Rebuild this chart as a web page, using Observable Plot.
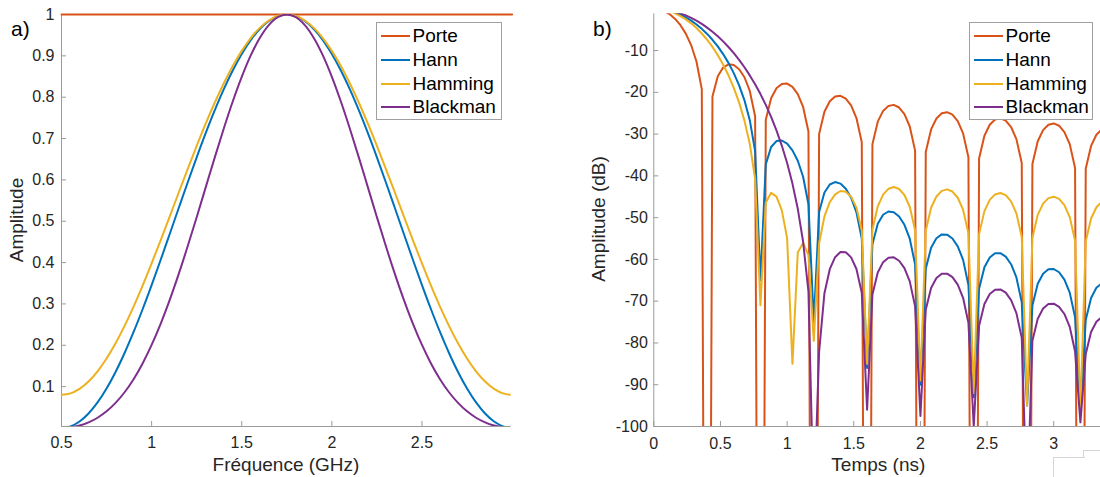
<!DOCTYPE html>
<html><head><meta charset="utf-8">
<script src="https://cdn.jsdelivr.net/npm/d3@7"></script>
<script src="https://cdn.jsdelivr.net/npm/@observablehq/plot@0.6"></script>
<style>
html,body{margin:0;padding:0;background:#fff;}
body{width:1100px;height:477px;overflow:hidden;position:relative;font-family:"Liberation Sans",Arial,Helvetica,sans-serif;}
.panel{position:absolute;top:0;height:477px;}
.lbl{position:absolute;white-space:nowrap;color:#262626;font-size:19px;line-height:24px;}
.plab{position:absolute;white-space:nowrap;color:#000;font-size:21px;line-height:24px;top:17px;}
.legend{position:absolute;border:1px solid #a0a0a0;background:#fff;box-sizing:border-box;}
.legend .ln{position:absolute;left:3.5px;width:29px;height:2px;}
.legend .tx{position:absolute;left:35.5px;font-size:19px;line-height:24px;color:#000;white-space:nowrap;}
.art{position:absolute;border-top:1px solid #d6d6d6;border-left:1px solid #d6d6d6;}
</style></head><body>
<div id="pa" class="panel" style="left:0;width:550px"></div>
<div id="pb" class="panel" style="left:550px;width:554px"></div>
<div class="plab" style="left:11px">a)</div>
<div class="plab" style="left:593px">b)</div>
<div class="lbl" style="left:17.3px;top:220px;transform:translate(-50%,-50%) rotate(-90deg)">Amplitude</div>
<div class="lbl" style="left:286px;top:465px;transform:translate(-50%,-50%)">Fréquence (GHz)</div>
<div class="lbl" style="left:599.3px;top:219px;transform:translate(-50%,-50%) rotate(-90deg)">Amplitude (dB)</div>
<div class="lbl" style="left:878.3px;top:465px;transform:translate(-50%,-50%)">Temps (ns)</div>
<div class="art" style="left:1052.5px;top:457px;width:31px;height:30px"></div>
<div class="art" style="left:1083px;top:450px;width:30px;height:7px"></div>
<script>
const FONT = '"Liberation Sans", Arial, Helvetica, sans-serif';
const names = ["Porte", "Hann", "Hamming", "Blackman"];
const colors = ["#D95319", "#0072BD", "#EDB120", "#7E2F8E"];
const AXIS = "#9a9a9a";

// ---- panel a : windows vs frequency ----
const freqGHz = [0.5,0.55,0.6,0.65,0.7,0.75,0.8,0.85,0.9,0.95,1,1.05,1.1,1.15,1.2,1.25,1.3,1.35,1.4,1.45,1.5,1.55,1.6,1.65,1.7,1.75,1.8,1.85,1.9,1.95,2,2.05,2.1,2.15,2.2,2.25,2.3,2.35,2.4,2.45,2.5,2.55,2.6,2.65,2.7,2.75,2.8,2.85,2.9,2.95,3];
const porteA = [1,1,1,1,1,1,1,1,1,1,1,1,1,1,1,1,1,1,1,1,1,1,1,1,1,1,1,1,1,1,1,1,1,1,1,1,1,1,1,1,1,1,1,1,1,1,1,1,1,1,1];
const hannA = [0,0.0039,0.0157,0.0351,0.0618,0.0955,0.1355,0.1813,0.2321,0.2871,0.3455,0.4063,0.4686,0.5314,0.5937,0.6545,0.7129,0.7679,0.8187,0.8645,0.9045,0.9382,0.9649,0.9843,0.9961,1,0.9961,0.9843,0.9649,0.9382,0.9045,0.8645,0.8187,0.7679,0.7129,0.6545,0.5937,0.5314,0.4686,0.4063,0.3455,0.2871,0.2321,0.1813,0.1355,0.0955,0.0618,0.0351,0.0157,0.0039,0];
const hammingA = [0.08,0.0836,0.0945,0.1123,0.1369,0.1679,0.2047,0.2468,0.2935,0.3441,0.3979,0.4538,0.5111,0.5689,0.6262,0.6821,0.7359,0.7865,0.8332,0.8753,0.9121,0.9431,0.9677,0.9855,0.9964,1,0.9964,0.9855,0.9677,0.9431,0.9121,0.8753,0.8332,0.7865,0.7359,0.6821,0.6262,0.5689,0.5111,0.4538,0.3979,0.3441,0.2935,0.2468,0.2047,0.1679,0.1369,0.1123,0.0945,0.0836,0.08];
const blackmanA = [0,0.0014,0.0058,0.0134,0.0247,0.0402,0.0605,0.0863,0.118,0.1561,0.2008,0.2519,0.3092,0.372,0.4393,0.5098,0.5819,0.6539,0.7237,0.7895,0.8492,0.901,0.9432,0.9744,0.9935,1,0.9935,0.9744,0.9432,0.901,0.8492,0.7895,0.7237,0.6539,0.5819,0.5098,0.4393,0.372,0.3092,0.2519,0.2008,0.1561,0.118,0.0863,0.0605,0.0402,0.0247,0.0134,0.0058,0.0014,0];
const xTicksA = [0.5, 1, 1.5, 2, 2.5];
const yTicksA = [0.1, 0.2, 0.3, 0.4, 0.5, 0.6, 0.7, 0.8, 0.9, 1];
const xDomA = [0.5, 2.995];
const yDomA = [0.0035, 1];

// ---- panel b : spectra in dB vs time ----
const timeNs = [0,0.04,0.08,0.12,0.16,0.2,0.24,0.28,0.32,0.36,0.4,0.44,0.48,0.52,0.56,0.6,0.64,0.68,0.72,0.76,0.8,0.84,0.88,0.92,0.96,1,1.04,1.08,1.12,1.16,1.2,1.24,1.28,1.32,1.36,1.4,1.44,1.48,1.52,1.56,1.6,1.64,1.68,1.72,1.76,1.8,1.84,1.88,1.92,1.96,2,2.04,2.08,2.12,2.16,2.2,2.24,2.28,2.32,2.36,2.4,2.44,2.48,2.52,2.56,2.6,2.64,2.68,2.72,2.76,2.8,2.84,2.88,2.92,2.96,3,3.04,3.08,3.12,3.16,3.2,3.24,3.28,3.32,3.36,3.4];
const porteDB = [0,-0.144,-0.58,-1.325,-2.42,-3.922,-5.942,-8.685,-12.621,-19.229,
-320,-20.972,-16.143,-14.062,-13.302,-13.465,-14.461,-16.392,-19.664,-25.719,
-320,-26.588,-21.407,-19.018,-17.983,-17.902,-18.678,-20.41,-23.502,-29.392,
-320,-29.971,-24.662,-22.153,-21.009,-20.824,-21.505,-23.147,-26.155,-31.965,
-320,-32.4,-27.024,-24.452,-23.248,-23.007,-23.634,-25.225,-28.184,-33.948,
-320,-34.295,-28.879,-26.269,-25.027,-24.75,-25.343,-26.9,-29.828,-35.561,
-320,-35.851,-30.407,-27.77,-26.503,-26.201,-26.77,-28.304,-31.209,-36.921,
-320,-37.169,-31.706,-29.049,-27.764,-27.444,-27.995,-29.513,-32.401,-38.096,
-320,-38.314,-32.835,-30.165,-28.865,-28.531];
const hannDB = [0,-0.057,-0.225,-0.506,-0.906,-1.423,-2.066,-2.836,-3.747,-4.804,
-6.021,-7.416,-9.012,-10.839,-12.947,-15.403,-18.323,-21.921,-26.669,-34.052,
-65,-37.243,-33.094,-31.667,-31.535,-32.305,-33.886,-36.383,-40.203,-46.788,
-75,-48.671,-43.976,-42.057,-41.482,-41.847,-43.06,-45.216,-48.723,-55.017,
-86,-56.379,-51.447,-49.308,-48.526,-48.695,-49.723,-51.706,-55.048,-61.186,
-90,-62.258,-57.192,-54.926,-54.02,-54.073,-54.989,-56.864,-60.103,-66.142,
-93,-67.028,-61.874,-59.522,-58.536,-58.51,-59.35,-61.152,-64.32,-70.291,
-95,-71.045,-65.83,-63.417,-62.373,-62.29,-63.076,-64.825,-67.941,-73.861,
-97,-74.52,-69.257,-66.801,-65.712,-65.586];
const hammingDB = [0,-0.07,-0.277,-0.623,-1.114,-1.751,-2.542,-3.491,-4.613,-5.914,
-7.414,-9.132,-11.096,-13.342,-15.927,-18.925,-22.465,-26.775,-32.349,-40.7,
-71,-46.445,-44.06,-44.966,-48.209,-54.912,-85,-58.321,-56.041,-58.972,
-79.5,-56.13,-49.705,-46.303,-44.425,-43.626,-43.784,-44.975,-47.591,-53.056,
-85,-52.912,-47.292,-44.5,-43.097,-42.674,-43.136,-44.575,-47.396,-53.031,
-89,-53.151,-47.633,-44.928,-43.598,-43.238,-43.753,-45.238,-48.098,-53.767,
-92,-53.94,-48.443,-45.754,-44.439,-44.092,-44.617,-46.111,-48.977,-54.651,
-95,-54.829,-49.335,-46.647,-45.333,-44.984,-45.509,-47.001,-49.865,-55.536,
-96,-55.71,-50.209,-47.52,-46.2,-45.847];
const blackmanDB = [0,-0.044,-0.175,-0.392,-0.701,-1.098,-1.589,-2.169,-2.849,-3.627,
-4.506,-5.493,-6.591,-7.805,-9.146,-10.618,-12.234,-14.005,-15.947,-18.079,
-20.424,-23.013,-25.888,-29.105,-32.743,-36.928,-41.854,-47.88,-55.767,-67.73,
-120,-82.171,-68.089,-62.337,-59.459,-58.238,-58.275,-59.519,-62.293,-67.986,
-96,-68.415,-63.114,-60.654,-59.59,-59.51,-60.316,-62.1,-65.262,-71.238,
-97.5,-72.026,-66.838,-64.458,-63.448,-63.405,-64.232,-66.024,-69.186,-75.152,
-100,-75.908,-70.695,-68.288,-67.249,-67.174,-67.968,-69.725,-72.852,-78.783,
-120,-79.465,-74.216,-71.771,-70.697,-70.585,-71.343,-73.065,-76.156,-82.052,
-99,-82.666,-77.382,-74.906,-73.797,-73.653];
const xTicksB = [0, 0.5, 1, 1.5, 2, 2.5, 3];
const yTicksB = [-100, -90, -80, -70, -60, -50, -40, -30, -20, -10];
const xDomB = [0, 3.377];
const yDomB = [-100, -1.2];

const zip = (xs, ys) => xs.map((x, i) => ({x, y: ys[i]}));
const fmt = d => String(d);

function panel({xs, series, xDom, yDom, xTicks, yTicks, width, mL, mR, mT, mB, curve, clipFirst, xPad, yPad}) {
  const height = 477;
  const pw = width - mL - mR, ph = height - mT - mB;
  const lines = series.map((ys, i) => Plot.line(zip(xs, ys), {
    x: "x", y: "y", stroke: colors[i], strokeWidth: 2, curve,
    clip: i === 0 ? clipFirst : true
  }));
  return Plot.plot({
    width, height, marginLeft: mL, marginRight: mR, marginTop: mT, marginBottom: mB,
    style: {fontFamily: FONT, fontSize: "16px", color: "#262626", background: "transparent", overflow: "visible"},
    x: {domain: xDom, ticks: xTicks, tickFormat: fmt, tickSize: 0, tickPadding: xPad, label: null},
    y: {domain: yDom, ticks: yTicks, tickFormat: fmt, tickSize: 0, tickPadding: yPad, label: null},
    marks: [
      Plot.ruleX([xDom[0]], {stroke: AXIS, strokeWidth: 1}),
      Plot.ruleY([yDom[0]], {stroke: AXIS, strokeWidth: 1}),
      Plot.tickX(xTicks, {x: d => d, stroke: AXIS, insetTop: ph - 5}),
      Plot.tickY(yTicks, {y: d => d, stroke: AXIS, insetRight: pw - 5}),
      ...lines
    ]
  });
}

document.getElementById("pa").append(panel({
  xs: freqGHz, series: [porteA, hannA, hammingA, blackmanA],
  xDom: xDomA, yDom: yDomA, xTicks: xTicksA, yTicks: yTicksA,
  width: 550, mL: 61, mR: 39.3, mT: 14, mB: 51, curve: "catmull-rom", clipFirst: false, xPad: 10, yPad: 7
}));
document.getElementById("pb").append(panel({
  xs: timeNs, series: [porteDB, hannDB, hammingDB, blackmanDB],
  xDom: xDomB, yDom: yDomB, xTicks: xTicksB, yTicks: yTicksB,
  width: 554, mL: 103.3, mR: 0.5, mT: 13.3, mB: 51, curve: "linear", clipFirst: true, xPad: 11, yPad: 6
}));

function legend(left, top, width) {
  const box = document.createElement("div");
  box.className = "legend";
  Object.assign(box.style, {left: left + "px", top: top + "px", width: width + "px", height: "97.7px"});
  names.forEach((n, i) => {
    const cy = 12.8 + 23.8 * i;
    const ln = document.createElement("div");
    ln.className = "ln"; ln.style.top = (cy - 1) + "px"; ln.style.background = colors[i];
    const tx = document.createElement("div");
    tx.className = "tx"; tx.style.top = (cy - 12) + "px"; tx.textContent = n;
    box.append(ln, tx);
  });
  document.body.append(box);
}
legend(376, 22.3, 125.6);
legend(969, 22.3, 124.3);
</script>
</body></html>
